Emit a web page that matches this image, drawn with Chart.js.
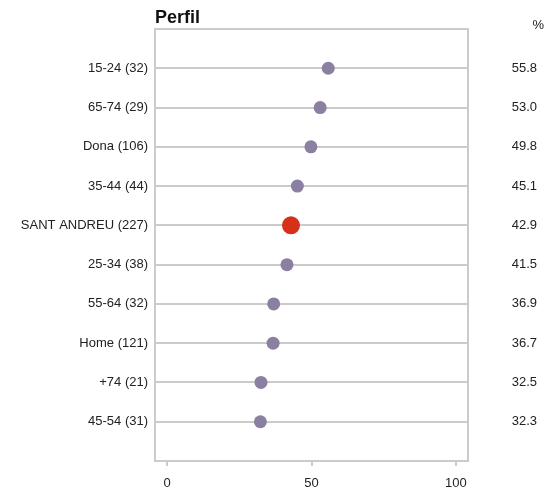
<!DOCTYPE html>
<html>
<head>
<meta charset="utf-8">
<script src="https://cdn.jsdelivr.net/npm/chart.js@4"></script>
<style>
  html, body { margin: 0; padding: 0; background: #fff; }
  #wrap { width: 548px; height: 489px; }
</style>
</head>
<body>
<div id="wrap"><canvas id="chart"></canvas></div>
<script>
const categories = ['15-24 (32)', '65-74 (29)', 'Dona (106)', '35-44 (44)', 'SANT ANDREU (227)',
  '25-34 (38)', '55-64 (32)', 'Home (121)', '+74 (21)', '45-54 (31)']
const values = [55.8, 53.0, 49.8, 45.1, 42.9, 41.5, 36.9, 36.7, 32.5, 32.3]
const totalLabel = 'SANT ANDREU (227)'
const xTicks = [0, 50, 100]

const lineGray = '#cbcbcb'
const dotColor = '#8b7fa2'
const totalColor = '#d6301b'
const font = 'Liberation Sans, Arial, sans-serif'

const rowTicks = scale => { scale.ticks = categories.map((c, i) => ({value: i})) }

// frame around the plot area + the "%" header
const framePlugin = {
  id: 'frame',
  beforeDatasetsDraw(chart) {
    const {ctx, chartArea: a} = chart
    ctx.save()
    ctx.strokeStyle = lineGray
    ctx.lineWidth = 2
    ctx.strokeRect(a.left, a.top, a.right - a.left, a.bottom - a.top)
    ctx.restore()
  },
  afterDraw(chart) {
    const ctx = chart.ctx
    ctx.save()
    ctx.fillStyle = '#222'
    ctx.font = '13px ' + font
    ctx.textAlign = 'right'
    ctx.textBaseline = 'middle'
    ctx.fillText('%', 544, 25)
    ctx.restore()
  }
}

new Chart(document.getElementById('chart'), {
  type: 'scatter',
  data: {
    datasets: [{
      data: values.map((v, i) => ({x: v, y: i})),
      pointRadius: categories.map(c => c === totalLabel ? 9 : 6.5),
      pointHoverRadius: categories.map(c => c === totalLabel ? 9 : 6.5),
      pointBackgroundColor: categories.map(c => c === totalLabel ? totalColor : dotColor),
      pointBorderWidth: 0
    }]
  },
  options: {
    responsive: true,
    maintainAspectRatio: false,
    animation: false,
    layout: {padding: {left: 0, right: 11, top: 0, bottom: 0}},
    plugins: {
      legend: {display: false},
      tooltip: {enabled: false},
      title: {
        display: true,
        text: 'Perfil',
        align: 'start',
        fullSize: false,
        color: '#111',
        font: {family: font, size: 18, weight: 'bold'},
        padding: {top: 7, bottom: 0.4}
      }
    },
    scales: {
      x: {
        type: 'linear',
        min: -4.2,
        max: 104.2,
        afterBuildTicks: scale => { scale.ticks = xTicks.map(v => ({value: v})) },
        afterFit: scale => { scale.height = 28 },
        border: {display: false},
        grid: {drawOnChartArea: false, drawTicks: true, tickLength: 5, color: lineGray, lineWidth: 2},
        ticks: {color: '#222', padding: 10, font: {family: font, size: 13}, maxRotation: 0}
      },
      y: {
        type: 'linear',
        position: 'left',
        min: -1,
        max: 10,
        reverse: true,
        afterBuildTicks: rowTicks,
        afterFit: scale => { scale.width = 155 },
        border: {display: false},
        grid: {drawTicks: false, color: lineGray, lineWidth: 2},
        ticks: {
          color: '#222',
          padding: 7,
          font: {family: font, size: 13},
          callback: v => categories[v]
        }
      },
      yRight: {
        type: 'linear',
        position: 'right',
        min: -1,
        max: 10,
        reverse: true,
        afterBuildTicks: rowTicks,
        afterFit: scale => { scale.width = 69 },
        border: {display: false},
        grid: {display: false, drawTicks: false},
        ticks: {
          color: '#222',
          crossAlign: 'far',
          font: {family: font, size: 13},
          callback: v => values[v].toFixed(1)
        }
      }
    }
  },
  plugins: [framePlugin]
})
</script>
</body>
</html>
